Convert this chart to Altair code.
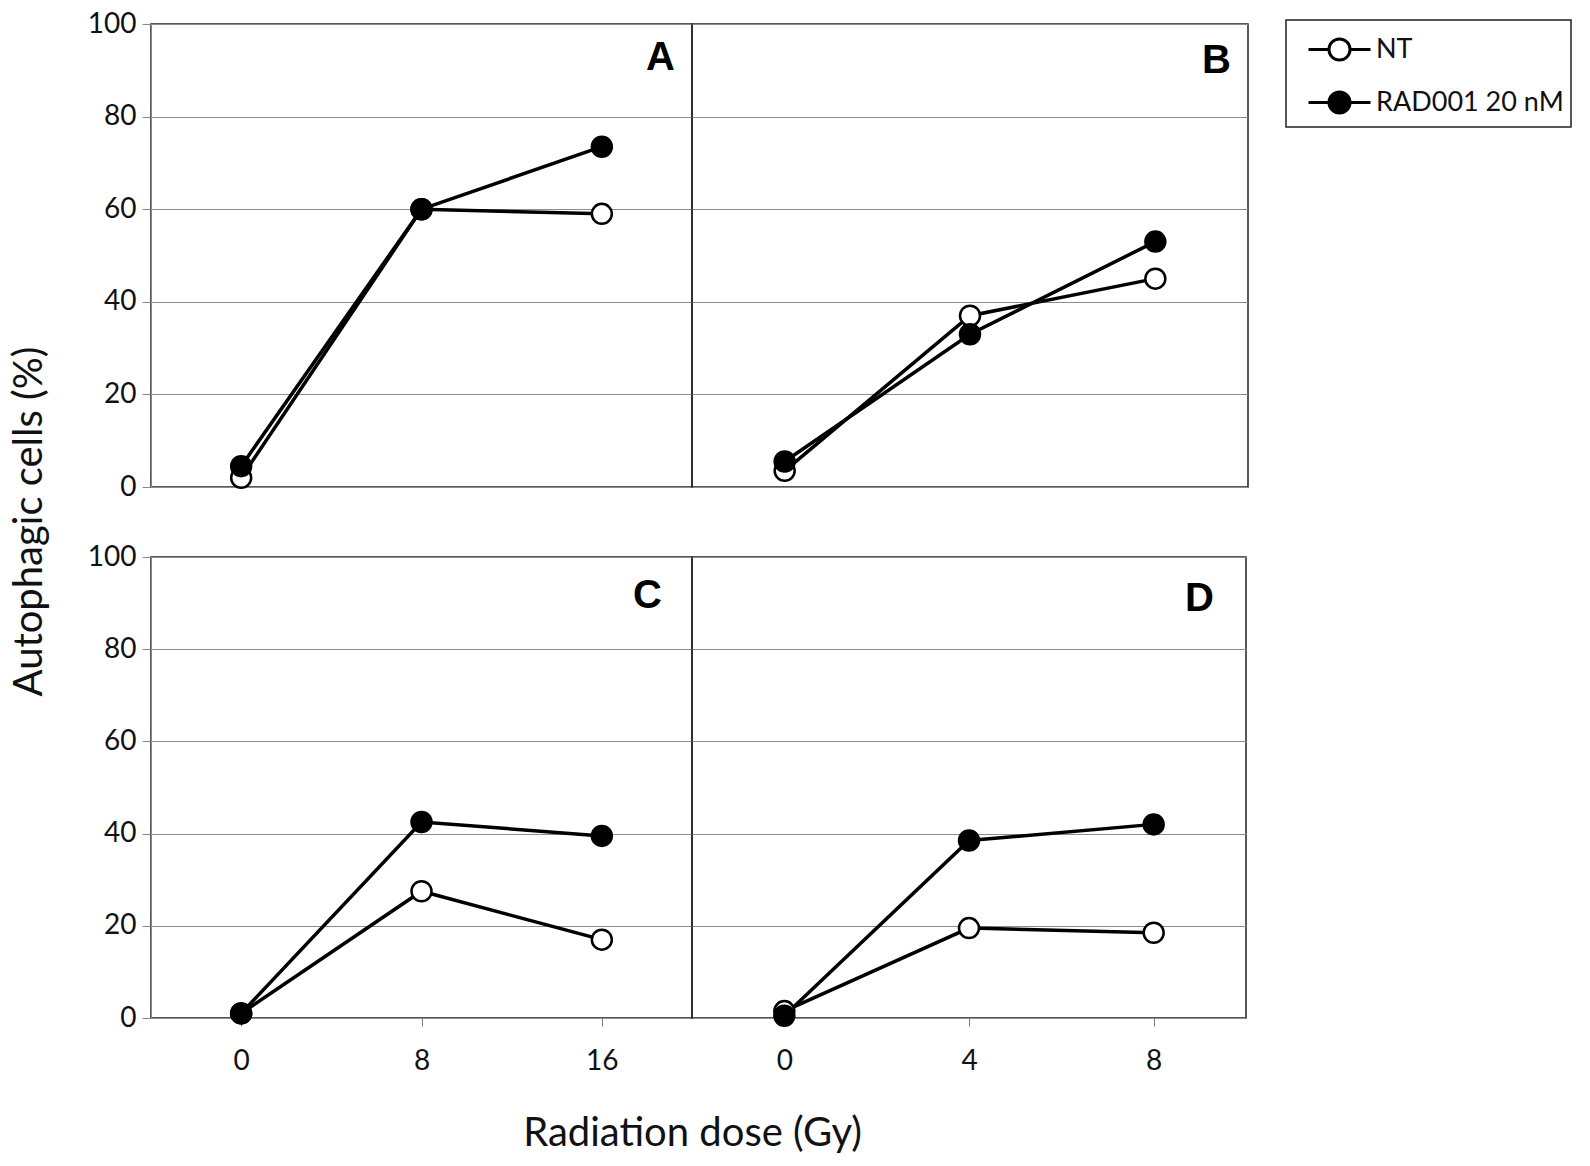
import altair as alt
import pandas as pd

series_names = ["NT", "RAD001 20 nM"]

doses_a = [0, 8, 16]
nt_a = [2, 60, 59]
rad_a = [4.5, 60, 73.5]

doses_b = [0, 4, 8]
nt_b = [3.5, 37, 45]
rad_b = [5.5, 33, 53]

doses_c = [0, 8, 16]
nt_c = [1, 27.5, 17]
rad_c = [1, 42.5, 39.5]

doses_d = [0, 4, 8]
nt_d = [1.5, 19.5, 18.5]
rad_d = [0.5, 38.5, 42]

y_ticks = [0, 20, 40, 60, 80, 100]

FONT = "Lato"
LETTER_FONT = "Liberation Sans"
TITLE_SIZE = 40


def frame(doses, nt, rad):
    rows = []
    for d, v in zip(doses, nt):
        rows.append({"dose": d, "value": v, "series": series_names[0]})
    for d, v in zip(doses, rad):
        rows.append({"dose": d, "value": v, "series": series_names[1]})
    return pd.DataFrame(rows)


legend_path = ("M-1.5,0L-0.51,0M0.51,0L1.5,0"
               "M0.51,0A0.51,0.51,0,1,1,-0.51,0A0.51,0.51,0,1,1,0.51,0Z")


def panel(doses, nt, rad, letter, w, h, left_axis, bottom_axis, letter_dx, letter_dy,
          show_legend=False, ytitle=None, xtitle=None):
    df = frame(doses, nt, rad)
    xscale = alt.Scale(type="point", domain=doses, padding=0.5)
    if bottom_axis:
        xaxis = alt.Axis(labelFontSize=28, labelFont=FONT, labelColor="#111",
                         ticks=True, tickSize=8, tickColor="#777", domain=False,
                         labelPadding=21, labelAngle=0, grid=False,
                         title=xtitle if xtitle else None,
                         **({"titleX": w, "titleY": 115, "titleFontSize": TITLE_SIZE,
                             "titleFont": FONT, "titleFontWeight": "normal",
                             "titleBaseline": "middle", "titleAlign": "center",
                             "titleColor": "#111"} if xtitle else {}))
    else:
        xaxis = alt.Axis(labels=False, ticks=False, domain=False, grid=False, title=None)
    if left_axis:
        yaxis = alt.Axis(values=y_ticks, labelFontSize=28, labelFont=FONT, labelColor="#111",
                         tickSize=9, tickColor="#888", labelPadding=6, domain=True,
                         domainColor="#888", grid=True, gridColor="#8c8c8c", gridWidth=1.2,
                         title=ytitle if ytitle else None,
                         **({"titleX": -122, "titleY": 497, "titleFontSize": TITLE_SIZE,
                             "titleFont": FONT, "titleFontWeight": "normal",
                             "titleAngle": 270, "titleBaseline": "middle",
                             "titleAlign": "center", "titleColor": "#111"} if ytitle else {}))
    else:
        yaxis = alt.Axis(values=y_ticks, labels=False, ticks=False, domain=False, grid=True,
                         gridColor="#8c8c8c", gridWidth=1.2, title=None)
    x = alt.X("dose:O", scale=xscale, axis=xaxis, sort=doses)
    y = alt.Y("value:Q", scale=alt.Scale(domain=[0, 100], nice=False), axis=yaxis)

    base = alt.Chart(df)
    lines = base.mark_line(color="black", strokeWidth=3.5).encode(
        x=x, y=y, detail="series:N")
    if show_legend:
        leg = alt.Legend(title=None, orient="none", legendX=1135, legendY=-4,
                         strokeColor="#222", padding=7,
                         symbolType=legend_path, symbolSize=1708,
                         symbolStrokeColor="black", symbolStrokeWidth=3,
                         symbolOffset=24, labelOffset=14, rowPadding=13,
                         labelFontSize=27, labelFont=FONT, labelColor="#111",
                         labelExpr="datum.label + '\u00a0\u00a0\u00a0\u00a0\u00a0\u00a0'",
                         labelLimit=400, cornerRadius=0, fillColor="white")
    else:
        leg = None
    pts = base.mark_circle(size=400, stroke="black", strokeWidth=2.5, opacity=1).encode(
        x=x, y=y,
        fill=alt.Fill("series:N", scale=alt.Scale(domain=series_names, range=["white", "black"]),
                      legend=leg),
    )
    txt = alt.Chart(pd.DataFrame({"letter": [letter]})).mark_text(
        align="right", baseline="middle", fontSize=40, fontWeight="bold",
        font=LETTER_FONT, color="black"
    ).encode(text="letter:N", x=alt.value(w - letter_dx), y=alt.value(letter_dy))
    return alt.layer(lines, pts, txt).properties(width=w, height=h)


pa = panel(doses_a, nt_a, rad_a, "A", 541, 463, True, False, 17, 34,
           show_legend=True, ytitle="Autophagic cells (%)")
pb = panel(doses_b, nt_b, rad_b, "B", 556, 463, False, False, 17, 37)
pc = panel(doses_c, nt_c, rad_c, "C", 541, 461, True, True, 30, 39,
           xtitle="Radiation dose (Gy)")
pd_ = panel(doses_d, nt_d, rad_d, "D", 554, 461, False, True, 32, 42)

chart = alt.concat(pa, pb, pc, pd_, columns=2, spacing={"row": 70, "column": 0},
                   bounds="flush").resolve_scale(fill="independent").properties(
    padding={"left": 0, "top": 1, "right": 5, "bottom": 5}
).configure_view(stroke="#222", strokeWidth=1.5).configure_legend(strokeWidth=1.5)

chart.save("out.html", embed_options={"renderer": "svg", "actions": False})
